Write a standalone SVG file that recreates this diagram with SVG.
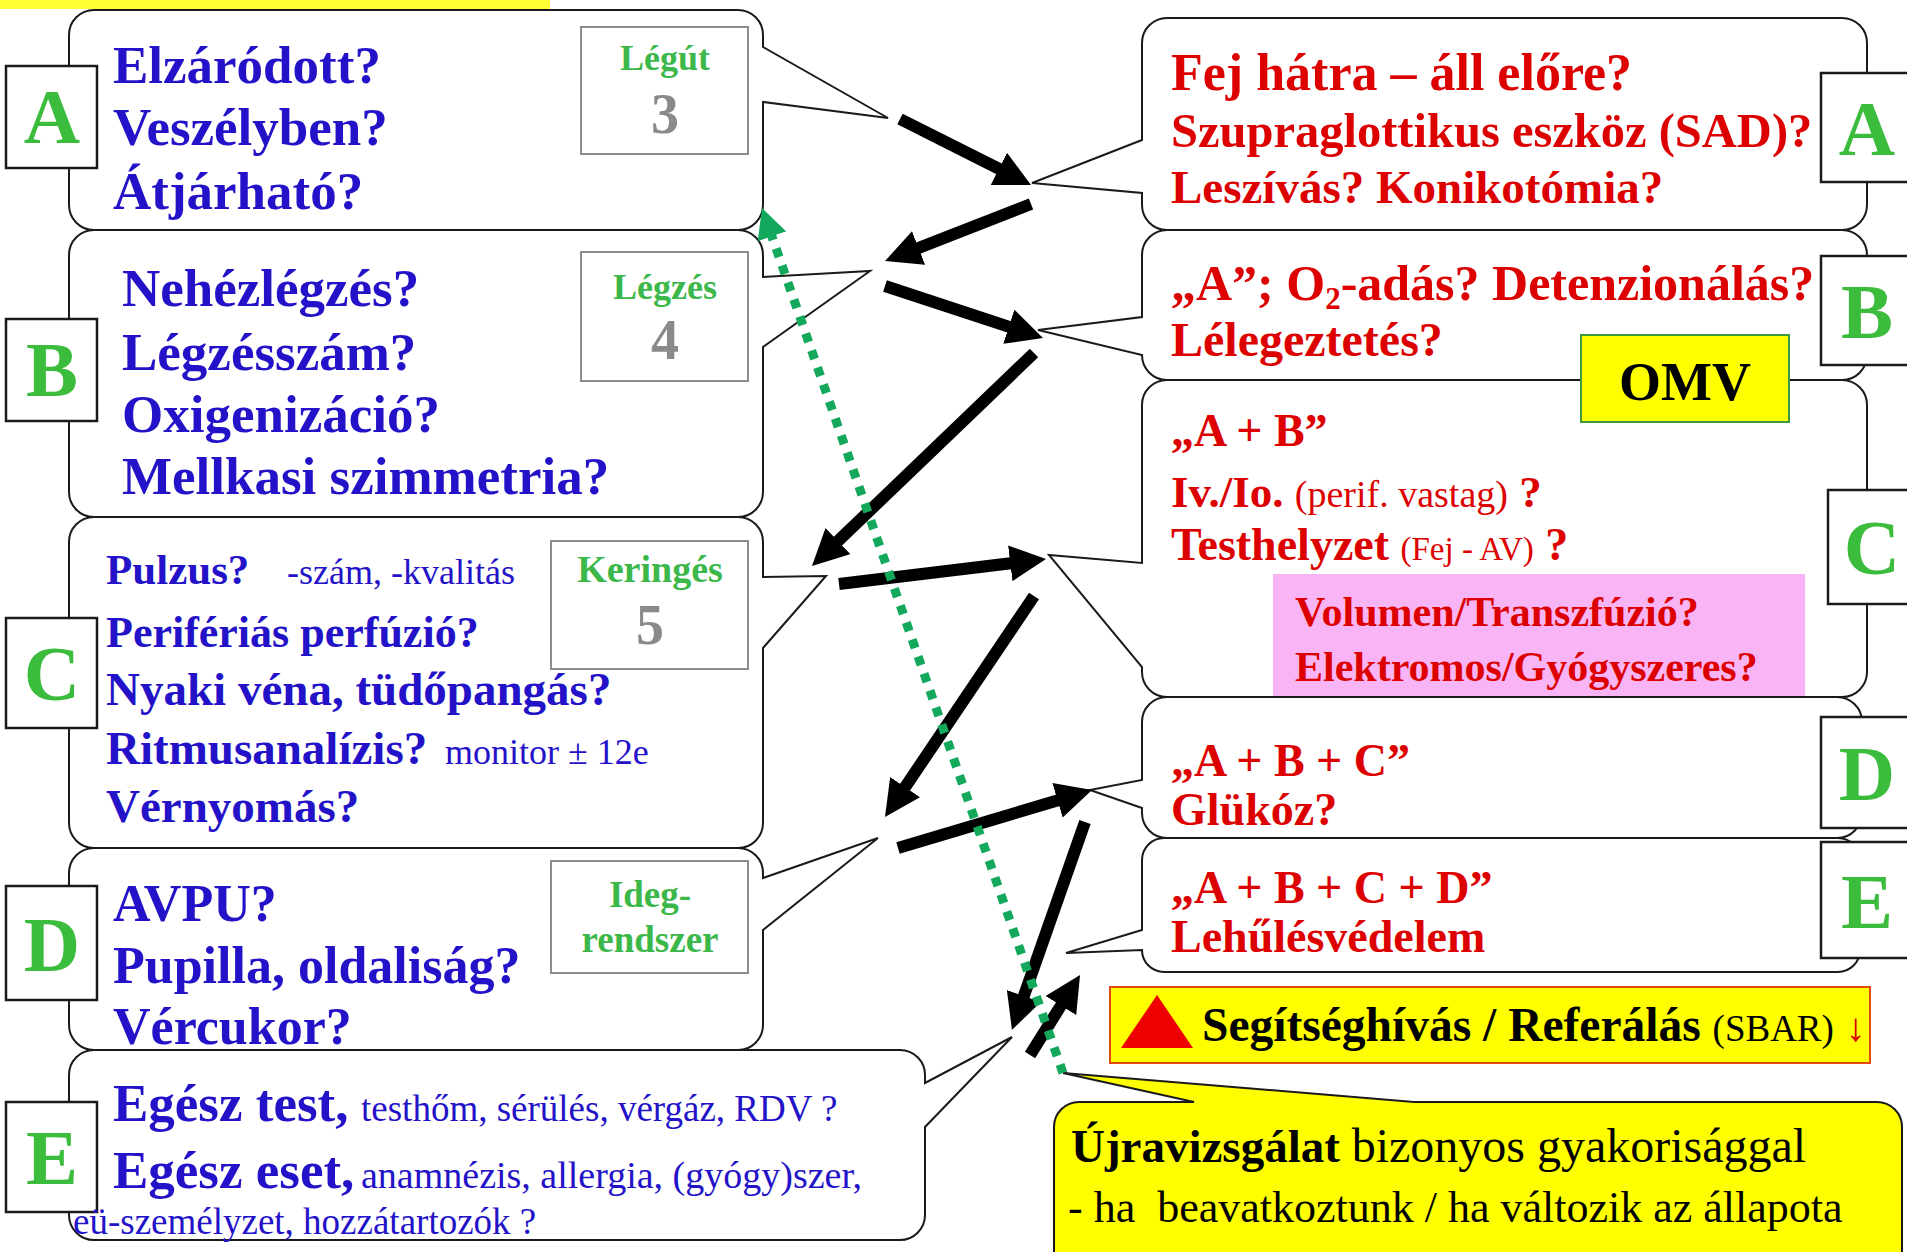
<svg xmlns="http://www.w3.org/2000/svg" width="1907" height="1252" viewBox="0 0 1907 1252">
<style>
text{font-family:"Liberation Serif","Times New Roman",serif}
.box{fill:#fff;stroke:#1a1a1a;stroke-width:2}
.lbox{fill:#fff;stroke:#1a1a1a;stroke-width:2.5}
.gbox{fill:#fff;stroke:#8c8c8c;stroke-width:2}
.bl{fill:#2312c8;font-weight:bold}
.bln{fill:#2312c8;font-weight:normal}
.rd{fill:#dd0000;font-weight:bold}
.rdn{fill:#dd0000;font-weight:normal}
.let{fill:#3cbc3c;font-size:78px;font-weight:bold;text-anchor:middle}
.gl{fill:#3cb84a;font-weight:bold;text-anchor:middle}
.num{fill:#8a8a8a;font-weight:bold;font-size:56px;text-anchor:middle}
.arr{stroke:#000;stroke-width:12;marker-end:url(#ah)}
.grn{stroke:#14a85c;stroke-width:9;stroke-dasharray:9 9;fill:none;marker-end:url(#gh)}
.blk{fill:#000;font-weight:bold}
.blkn{fill:#000;font-weight:normal}
</style>
<defs>
<marker id="ah" markerUnits="userSpaceOnUse" markerWidth="36" markerHeight="36" viewBox="0 0 36 36" refX="12" refY="18" orient="auto"><path d="M0,0 L36,18 L0,36 Z" fill="#000"/></marker>
<marker id="gh" markerUnits="userSpaceOnUse" markerWidth="30" markerHeight="30" viewBox="0 0 30 30" refX="10" refY="15" orient="auto"><path d="M0,0 L30,15 L0,30 Z" fill="#14a85c"/></marker>
</defs>
<rect width="1907" height="1252" fill="#fff"/>
<rect id="topbar" x="0" y="0" width="550" height="9" fill="#ffff33"/>

<g id="left-A">
<path class="box" d="M94,10 H738 A25,25 0 0 1 763,35 V47 L888,118 L763,102 V205 A25,25 0 0 1 738,230 H94 A25,25 0 0 1 69,205 V35 A25,25 0 0 1 94,10 Z"/>
<rect class="lbox" x="6" y="66" width="91" height="102"/>
<text class="let" x="52" y="143">A</text>
<text class="bl" font-size="53" x="113" y="83">Elzáródott?</text>
<text class="bl" font-size="53" x="113" y="145">Veszélyben?</text>
<text class="bl" font-size="53" x="113" y="209">Átjárható?</text>
<rect class="gbox" x="581" y="27" width="167" height="127"/>
<text class="gl" font-size="36" x="665" y="70">Légút</text>
<text class="num" x="665" y="133">3</text>
</g>

<g id="left-B">
<path class="box" d="M94,230 H738 A25,25 0 0 1 763,255 V277 L870,271 L763,347 V492 A25,25 0 0 1 738,517 H94 A25,25 0 0 1 69,492 V255 A25,25 0 0 1 94,230 Z"/>
<rect class="lbox" x="6" y="319" width="91" height="102"/>
<text class="let" x="52" y="396">B</text>
<text class="bl" font-size="53" x="122" y="306">Nehézlégzés?</text>
<text class="bl" font-size="53" x="122" y="370">Légzésszám?</text>
<text class="bl" font-size="53" x="122" y="432">Oxigenizáció?</text>
<text class="bl" font-size="53" x="122" y="494">Mellkasi szimmetria?</text>
<rect class="gbox" x="581" y="252" width="167" height="129"/>
<text class="gl" font-size="36" x="665" y="299">Légzés</text>
<text class="num" x="665" y="359">4</text>
</g>

<g id="left-C">
<path class="box" d="M94,517 H738 A25,25 0 0 1 763,542 V577 L826,576 L763,648 V823 A25,25 0 0 1 738,848 H94 A25,25 0 0 1 69,823 V542 A25,25 0 0 1 94,517 Z"/>
<rect class="lbox" x="6" y="618" width="91" height="110"/>
<text class="let" x="52" y="700">C</text>
<text class="bl" font-size="43" x="106" y="584">Pulzus?</text>
<text class="bln" font-size="36" x="287" y="584">-szám, -kvalitás</text>
<text class="bl" font-size="44" x="106" y="647">Perifériás perfúzió?</text>
<text class="bl" font-size="47" x="106" y="705">Nyaki véna, tüdőpangás?</text>
<text class="bl" font-size="47" x="106" y="764">Ritmusanalízis?</text>
<text class="bln" font-size="36" x="445" y="764">monitor ± 12e</text>
<text class="bl" font-size="47" x="106" y="822">Vérnyomás?</text>
<rect class="gbox" x="551" y="541" width="197" height="128"/>
<text class="gl" font-size="38" x="650" y="582">Keringés</text>
<text class="num" x="650" y="644">5</text>
</g>

<g id="left-D">
<path class="box" d="M94,848 H738 A25,25 0 0 1 763,873 V878 L878,838 L763,930 V1025 A25,25 0 0 1 738,1050 H94 A25,25 0 0 1 69,1025 V873 A25,25 0 0 1 94,848 Z"/>
<rect class="lbox" x="6" y="886" width="91" height="114"/>
<text class="let" x="52" y="971">D</text>
<text class="bl" font-size="52" x="113" y="921">AVPU?</text>
<text class="bl" font-size="52" x="113" y="983">Pupilla, oldaliság?</text>
<text class="bl" font-size="52" x="113" y="1044">Vércukor?</text>
<rect class="gbox" x="551" y="861" width="197" height="112"/>
<text class="gl" font-size="37" x="650" y="907">Ideg-</text>
<text class="gl" font-size="37" x="650" y="952">rendszer</text>
</g>

<g id="left-E">
<path class="box" d="M94,1050 H900 A25,25 0 0 1 925,1075 V1083 L1012,1037 L925,1127 V1215 A25,25 0 0 1 900,1240 H94 A25,25 0 0 1 69,1215 V1075 A25,25 0 0 1 94,1050 Z"/>
<rect class="lbox" x="6" y="1102" width="91" height="110"/>
<text class="let" x="52" y="1184">E</text>
<text class="bl" font-size="53" x="113" y="1121">Egész test,</text>
<text class="bln" font-size="37" x="361" y="1121">testhőm, sérülés, vérgáz, RDV ?</text>
<text class="bl" font-size="53" x="113" y="1188">Egész eset,</text>
<text class="bln" font-size="38" x="361" y="1188">anamnézis, allergia, (gyógy)szer,</text>
<text class="bln" font-size="37" x="73" y="1234">eü-személyzet, hozzátartozók ?</text>
</g>

<g id="right-A">
<path class="box" d="M1167,18 H1842 A25,25 0 0 1 1867,43 V205 A25,25 0 0 1 1842,230 H1167 A25,25 0 0 1 1142,205 V193 L1032,183 L1142,140 V43 A25,25 0 0 1 1167,18 Z"/>
<rect class="lbox" x="1821" y="73" width="100" height="109"/>
<text class="let" x="1867" y="155">A</text>
<text class="rd" font-size="52" x="1171" y="90">Fej hátra – áll előre?</text>
<text class="rd" font-size="48.5" x="1171" y="147">Szupraglottikus eszköz (SAD)?</text>
<text class="rd" font-size="47" x="1171" y="203">Leszívás? Konikotómia?</text>
</g>

<g id="right-B">
<path class="box" d="M1167,230 H1842 A25,25 0 0 1 1867,255 V355 A25,25 0 0 1 1842,380 H1167 A25,25 0 0 1 1142,355 L1038,330 L1142,317 V255 A25,25 0 0 1 1167,230 Z"/>
<rect class="lbox" x="1821" y="256" width="100" height="109"/>
<text class="let" x="1867" y="338">B</text>
<text class="rd" font-size="50" x="1171" y="300">„A”; O<tspan font-size="31" dy="9">2</tspan><tspan dy="-9">-adás? Detenzionálás?</tspan></text>
<text class="rd" font-size="48" x="1171" y="356">Lélegeztetés?</text>
</g>

<g id="right-C">
<path class="box" d="M1167,380 H1842 A25,25 0 0 1 1867,405 V672 A25,25 0 0 1 1842,697 H1167 A25,25 0 0 1 1142,672 V667 L1049,555 L1142,563 V405 A25,25 0 0 1 1167,380 Z"/>
<rect class="lbox" x="1828" y="490" width="95" height="114"/>
<text class="let" x="1872" y="574">C</text>
<text class="rd" font-size="46" x="1171" y="446">„A + B”</text>
<text class="rd" font-size="45" x="1171" y="507">Iv./Io. <tspan class="rdn" font-size="38">(perif. vastag)</tspan> ?</text>
<text class="rd" font-size="46" x="1171" y="560">Testhelyzet <tspan class="rdn" font-size="33">(Fej - AV)</tspan> ?</text>
<rect x="1273" y="574" width="532" height="123" fill="#f8b4f4"/>
<text class="rd" font-size="42" x="1295" y="626">Volumen/Transzfúzió?</text>
<text class="rd" font-size="42" x="1295" y="681">Elektromos/Gyógyszeres?</text>
</g>

<g id="omv">
<rect x="1581" y="335" width="208" height="87" fill="#ffff00" stroke="#3c9a3c" stroke-width="2"/>
<text class="blk" font-size="54" x="1685" y="400" text-anchor="middle">OMV</text>
</g>

<g id="right-D">
<path class="box" d="M1167,697 H1837 A25,25 0 0 1 1862,722 V813 A25,25 0 0 1 1837,838 H1167 A25,25 0 0 1 1142,813 V808 L1090,790 L1142,780 V722 A25,25 0 0 1 1167,697 Z"/>
<rect class="lbox" x="1821" y="717" width="100" height="111"/>
<text class="let" x="1867" y="800">D</text>
<text class="rd" font-size="46" x="1171" y="776">„A + B + C”</text>
<text class="rd" font-size="46" x="1171" y="825">Glükóz?</text>
</g>

<g id="right-E">
<path class="box" d="M1164,838 H1838 A22,22 0 0 1 1860,860 V950 A22,22 0 0 1 1838,972 H1164 A22,22 0 0 1 1142,950 L1066,953 L1142,930 V860 A22,22 0 0 1 1164,838 Z"/>
<rect class="lbox" x="1821" y="842" width="100" height="116"/>
<text class="let" x="1867" y="928">E</text>
<text class="rd" font-size="46" x="1171" y="903">„A + B + C + D”</text>
<text class="rd" font-size="46" x="1171" y="952">Lehűlésvédelem</text>
</g>

<g id="segitseg">
<rect x="1110" y="987" width="760" height="76" fill="#ffff00" stroke="#e04a10" stroke-width="2"/>
<polygon points="1121,1048 1157,995 1193,1048" fill="#ee0000"/>
<text class="blk" font-size="47.5" x="1202" y="1041">Segítséghívás / Referálás <tspan class="blkn" font-size="37">(SBAR)</tspan> <tspan class="rdn" font-size="40">↓</tspan></text>
</g>

<g id="ujravizsgalat">
<path d="M1079,1102 H1194 L1063,1073 L1414,1102 H1877 A25,25 0 0 1 1902,1127 V1275 H1054 V1127 A25,25 0 0 1 1079,1102 Z" fill="#ffff00" stroke="#1a1a1a" stroke-width="2"/>
<text class="blk" font-size="47" x="1071" y="1162">Újravizsgálat <tspan class="blkn" font-size="48">bizonyos gyakorisággal</tspan></text>
<text class="blkn" font-size="44" x="1068" y="1222" xml:space="preserve">- ha  beavatkoztunk / ha változik az állapota</text>
</g>

<g id="connectors">
<line class="arr" x1="900" y1="119" x2="1009.6" y2="174.2"/>
<line class="arr" x1="1031" y1="204" x2="907.4" y2="252.3"/>
<line class="arr" x1="885" y1="286" x2="1020.2" y2="330.5"/>
<line class="arr" x1="1034" y1="353" x2="829.3" y2="549.4"/>
<line class="arr" x1="839" y1="584" x2="1022.2" y2="561.9"/>
<line class="arr" x1="1034" y1="596" x2="898.4" y2="797.1"/>
<line class="arr" x1="898" y1="848" x2="1069" y2="796.9"/>
<line class="arr" x1="1085" y1="822" x2="1019.9" y2="1007.3" stroke-width="10"/>
<line class="arr" x1="1030" y1="1055" x2="1067.3" y2="995.4" stroke-width="10"/>
<line class="grn" x1="1063" y1="1073" x2="768.6" y2="226.9"/>
</g>
</svg>
